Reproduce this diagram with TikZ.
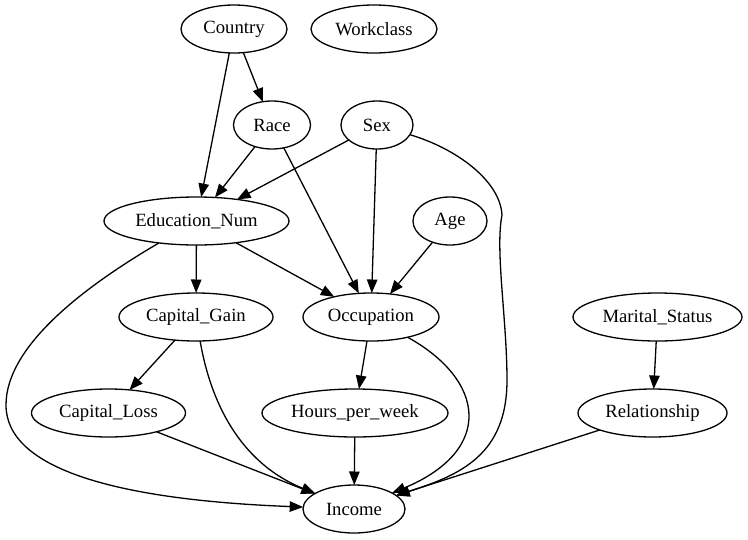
\documentclass[tikz,border=0pt]{standalone}
\usepackage{fontspec}
\setmainfont{Liberation Serif}
\usetikzlibrary{arrows.meta,shapes.geometric}
\begin{document}
\begin{tikzpicture}[x=1pt,y=-1pt,
  var/.style={ellipse,draw,line width=1.3pt,inner sep=0pt,outer sep=0pt,
    minimum height=48pt,font=\fontsize{18.67}{22}\selectfont},
  edge/.style={line width=1.3pt,-{Triangle[length=13.5pt,width=10.5pt]}}]
\useasboundingbox (0,0) rectangle (748,539);
\fill[white] (0,0) rectangle (748,539);
% nodes, rank by rank
\node[var,minimum width=106pt] (country) at (234,29) {\makebox[0pt]{Country}};
\node[var,minimum width=126pt] (workclass) at (374,29) {\makebox[0pt]{Workclass}};
\node[var,minimum width=77pt] (race) at (272,125) {\makebox[0pt]{Race}};
\node[var,minimum width=72pt] (sex) at (377,125) {\makebox[0pt]{Sex}};
\node[var,minimum width=185pt] (edu) at (196.5,221) {\makebox[0pt]{Education\_Num}};
\node[var,minimum width=74pt] (age) at (450,221) {\makebox[0pt]{Age}};
\node[var,minimum width=154pt] (cgain) at (196,317) {\makebox[0pt]{Capital\_Gain}};
\node[var,minimum width=136pt] (occ) at (371,317) {\makebox[0pt]{Occupation}};
\node[var,minimum width=169pt] (marital) at (657.5,317) {\makebox[0pt]{Marital\_Status}};
\node[var,minimum width=154pt] (closs) at (108.5,413) {\makebox[0pt]{Capital\_Loss}};
\node[var,minimum width=186pt] (hours) at (355,413) {\makebox[0pt]{Hours\_per\_week}};
\node[var,minimum width=149pt] (rel) at (652.5,413) {\makebox[0pt]{Relationship}};
\node[var,minimum width=102pt] (inc) at (354,509) {\makebox[0pt]{Income}};
% straight edges
\draw[edge] (country) -- (edu);
\draw[edge] (country) -- (race);
\draw[edge] (race) -- (edu);
\draw[edge] (race) -- (occ);
\draw[edge] (sex) -- (edu);
\draw[edge] (sex) -- (occ);
\draw[edge] (age) -- (occ);
\draw[edge] (edu) -- (cgain);
\draw[edge] (edu) -- (occ);
\draw[edge] (cgain) -- (closs);
\draw[edge] (occ) -- (hours);
\draw[edge] (hours) -- (inc);
\draw[edge] (closs) -- (inc);
\draw[edge] (marital) -- (rel);
\draw[edge] (rel) -- (inc);
% curved edges
\draw[edge] (edu) .. controls (87,285) and (6,345) .. (6,405)
  .. controls (6,470) and (120,500) .. (inc);
\draw[edge] (cgain) .. controls (212,410) and (245,465) .. (inc);
\draw[edge] (occ) .. controls (485,380) and (495,450) .. (inc);
\draw[edge] (sex) .. controls (455,148) and (500,180) .. (502,215)
  .. controls (495,250) and (507,320) .. (507,380)
  .. controls (507,455) and (460,475) .. (inc);
\end{tikzpicture}
\end{document}
